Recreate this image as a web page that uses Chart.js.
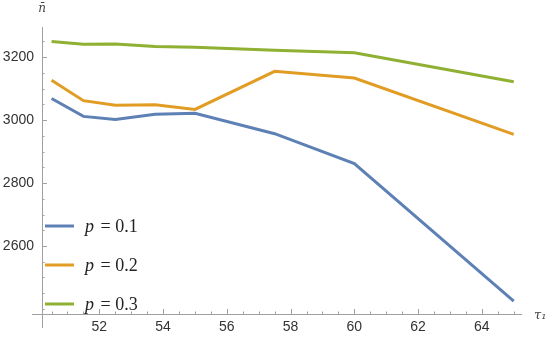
<!DOCTYPE html>
<html>
<head>
<meta charset="utf-8">
<script src="https://cdn.jsdelivr.net/npm/chart.js@4/dist/chart.umd.min.js"></script>
<style>
  html, body { margin: 0; padding: 0; background: #fff; }
  #wrap { width: 550px; height: 338px; }
</style>
</head>
<body>
<div id="wrap"><canvas id="tauPlot"></canvas></div>
<script>
// tau_1 values where the curves were sampled
const tau = [50.5, 51.5, 52.5, 53.75, 55, 57.5, 60, 65];
// mean n for each p
const p01 = [3069, 3012, 3002, 3019, 3022, 2957, 2862, 2425];
const p02 = [3127, 3062, 3047, 3049, 3034, 3155, 3134, 2955];
const p03 = [3250, 3241, 3242, 3234, 3232, 3222, 3214, 3122];
const seriesLabels = ['0.1', '0.2', '0.3'];
const xMajor = [52, 54, 56, 58, 60, 62, 64];
const yMajor = [2600, 2800, 3000, 3200];

const colors = ['rgb(94,129,181)', 'rgb(225,156,36)', 'rgb(143,176,50)'];
const axisColor = '#a0a0a0';

function pts(vals) {
  return vals.map(function (v, i) { return { x: tau[i], y: v }; });
}

// mathematica-like axes, minor ticks, legend and axis labels
const mmaAxes = {
  id: 'mmaAxes',
  afterDraw(chart) {
    const c = chart.ctx;
    const xs = chart.scales.x, ys = chart.scales.y;
    const x0 = xs.left, y0 = ys.bottom;
    c.save();
    c.strokeStyle = axisColor;
    c.lineWidth = 1;
    c.beginPath();
    c.moveTo(x0 - 10, y0 + 0.5);
    c.lineTo(xs.right, y0 + 0.5);
    c.moveTo(x0 + 0.5, ys.top);
    c.lineTo(x0 + 0.5, y0 + 14);
    xs.ticks.forEach(function (t) {
      const px = Math.round(xs.getPixelForValue(t.value)) + 0.5;
      const len = xMajor.indexOf(t.value) >= 0 ? 5 : 2.5;
      c.moveTo(px, y0);
      c.lineTo(px, y0 - len);
    });
    ys.ticks.forEach(function (t) {
      const py = Math.round(ys.getPixelForValue(t.value)) + 0.5;
      const len = yMajor.indexOf(t.value) >= 0 ? 5 : 2.5;
      c.moveTo(x0, py);
      c.lineTo(x0 + len, py);
    });
    c.stroke();

    // axis labels
    c.fillStyle = '#444';
    c.textBaseline = 'middle';
    c.textAlign = 'center';
    c.font = 'italic 12px "DejaVu Serif"';
    c.fillText('n\u0304', x0, 9);
    c.textAlign = 'left';
    c.font = 'italic 13px "DejaVu Serif"';
    c.fillText('\u03c4\u2081', xs.right + 12, y0 + 2);

    // legend, bottom left inside the plot
    chart.data.datasets.forEach(function (ds, i) {
      const ly = chart.chartArea.bottom - 10 - (chart.data.datasets.length - 1 - i) * 39;
      const lx = chart.chartArea.left + 3;
      c.strokeStyle = ds.borderColor;
      c.lineWidth = 3;
      c.beginPath();
      c.moveTo(lx, ly);
      c.lineTo(lx + 29, ly);
      c.stroke();
      c.fillStyle = '#222';
      c.textAlign = 'left';
      c.font = 'italic 18px "Liberation Serif"';
      c.fillText('p', lx + 40, ly + 1);
      const w = c.measureText('p').width;
      c.font = '18px "Liberation Serif"';
      c.fillText(' = ' + seriesLabels[i], lx + 40 + w + 2, ly + 1);
    });
    c.restore();
  }
};

const ctx = document.getElementById('tauPlot');
new Chart(ctx, {
  type: 'line',
  data: {
    datasets: [
      { label: 'p = ' + seriesLabels[0], data: pts(p01), borderColor: colors[0] },
      { label: 'p = ' + seriesLabels[1], data: pts(p02), borderColor: colors[1] },
      { label: 'p = ' + seriesLabels[2], data: pts(p03), borderColor: colors[2] }
    ]
  },
  options: {
    responsive: true,
    maintainAspectRatio: false,
    animation: false,
    layout: { padding: { left: 0, top: 27, right: 28, bottom: 0 } },
    elements: {
      line: { borderWidth: 3, tension: 0, fill: false },
      point: { radius: 0, hoverRadius: 0 }
    },
    plugins: {
      legend: { display: false },
      tooltip: { enabled: false }
    },
    scales: {
      x: {
        type: 'linear',
        min: 50.2,
        max: 65.26,
        afterFit: function (s) { s.height = 24; },
        border: { display: false },
        grid: { display: false, drawTicks: false },
        ticks: {
          stepSize: 0.5,
          includeBounds: false,
          autoSkip: false,
          maxRotation: 0,
          padding: 5,
          color: '#333',
          font: { family: 'Liberation Sans', size: 14 },
          callback: function (v) { return xMajor.indexOf(v) >= 0 ? String(v) : ''; }
        }
      },
      y: {
        min: 2384,
        max: 3296,
        afterFit: function (s) { s.width = 42; },
        border: { display: false },
        grid: { display: false, drawTicks: false },
        ticks: {
          stepSize: 50,
          includeBounds: false,
          autoSkip: false,
          padding: 8,
          color: '#333',
          font: { family: 'Liberation Sans', size: 14 },
          callback: function (v) { return yMajor.indexOf(v) >= 0 ? String(v) : ''; }
        }
      }
    }
  },
  plugins: [mmaAxes]
});
</script>
</body>
</html>
